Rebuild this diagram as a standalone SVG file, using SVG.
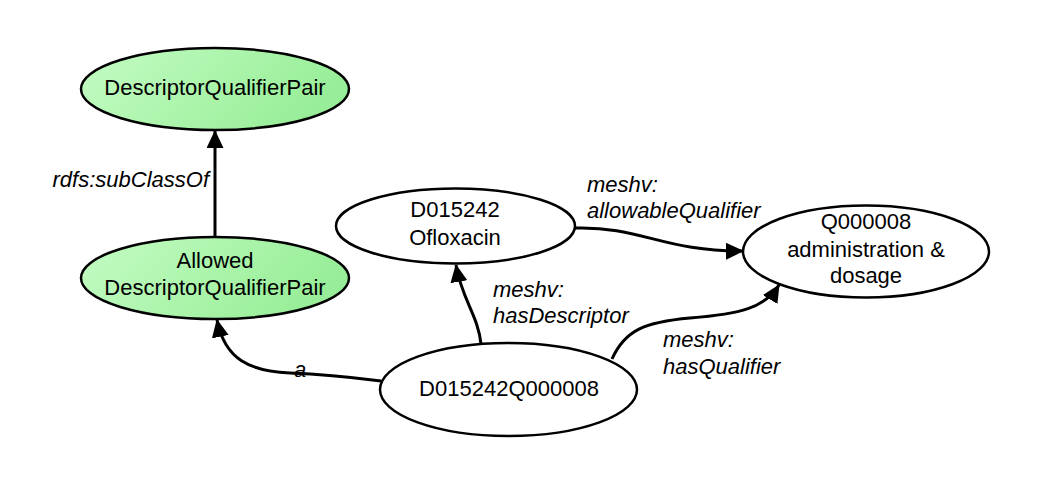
<svg xmlns="http://www.w3.org/2000/svg" width="1038" height="488" viewBox="0 0 1038 488">
<defs>
<linearGradient id="g" x1="0" y1="0" x2="1" y2="0.3">
<stop offset="0" stop-color="#c4fcc4"/>
<stop offset="1" stop-color="#98ee98"/>
</linearGradient>
<marker id="ah" markerUnits="userSpaceOnUse" markerWidth="20" markerHeight="18" refX="17" refY="8.5" orient="auto">
<path d="M0,0 L18,8.5 L0,17 z" fill="#000"/>
</marker>
<style>
.n{stroke:#000;stroke-width:2.5;fill:#fff}
.c{fill:url(#g)}
.t{font-family:"Liberation Sans",Arial,sans-serif;font-size:22px;fill:#000;text-anchor:middle}
.l{font-family:"Liberation Sans",Arial,sans-serif;font-size:22px;font-style:italic;fill:#000}
.e{fill:none;stroke:#000;stroke-width:3;marker-end:url(#ah)}
</style>
</defs>
<rect width="1038" height="488" fill="#fff"/>
<g id="connectors">
<path class="e" d="M215,237 L215,131"/>
<path class="e" d="M381,381 C350,377 320,374 290,373 C250,371 225,360 217,320"/>
<path class="e" d="M481,344 C478,315 462,300 456,265"/>
<path class="e" d="M575,228 C640,226 665,252 743,251"/>
<path class="e" d="M612,359 C625,330 645,322 690,318 C740,314 765,308 779,285"/>
<text class="l" x="209" y="187" text-anchor="end">rdfs:subClassOf</text>
<text class="l" x="300" y="377" text-anchor="middle">a</text>
<text class="l" x="493" y="297">meshv:</text>
<text class="l" x="493" y="323">hasDescriptor</text>
<text class="l" x="587" y="192">meshv:</text>
<text class="l" x="587" y="218">allowableQualifier</text>
<text class="l" x="663" y="347">meshv:</text>
<text class="l" x="663" y="374">hasQualifier</text>
</g>
<g id="DescriptorQualifierPair">
<ellipse class="n c" cx="215" cy="89" rx="134" ry="41"/>
<text class="t" x="215" y="95">DescriptorQualifierPair</text>
</g>
<g id="AllowedDescriptorQualifierPair">
<ellipse class="n c" cx="215" cy="278" rx="134" ry="41"/>
<text class="t" x="215" y="268">Allowed</text>
<text class="t" x="215" y="295">DescriptorQualifierPair</text>
</g>
<g id="D015242">
<ellipse class="n" cx="455.5" cy="226" rx="119.5" ry="37.5"/>
<text class="t" x="455" y="217">D015242</text>
<text class="t" x="455" y="245">Ofloxacin</text>
</g>
<g id="Q000008">
<ellipse class="n" cx="866" cy="251.5" rx="123" ry="46"/>
<text class="t" x="866" y="229">Q000008</text>
<text class="t" x="866" y="257">administration &amp;</text>
<text class="t" x="866" y="283">dosage</text>
</g>
<g id="D015242Q000008">
<ellipse class="n" cx="508.5" cy="389.5" rx="128.5" ry="46.5"/>
<text class="t" x="509" y="396">D015242Q000008</text>
</g>
</svg>
